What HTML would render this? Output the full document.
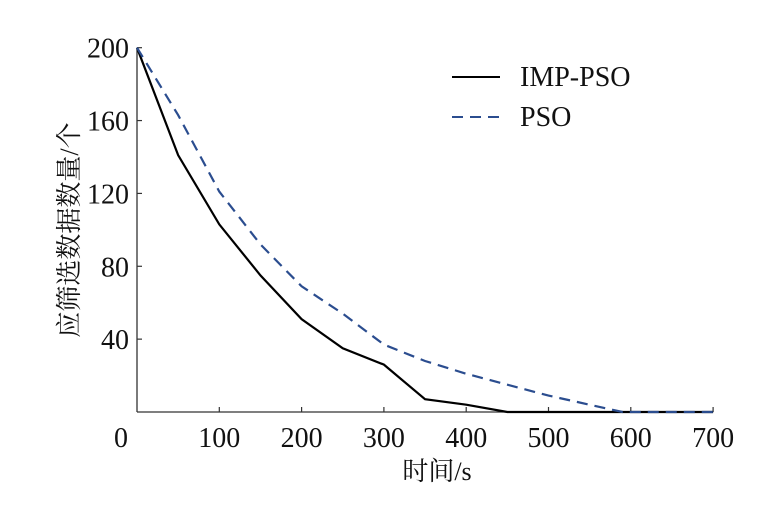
<!DOCTYPE html>
<html><head><meta charset="utf-8"><style>
html,body{margin:0;padding:0;background:#fff;}
svg text{font-family:"Liberation Serif","Noto Serif CJK SC","Noto Sans CJK SC",serif;fill:#111;}
</style></head><body>
<svg id="chart" width="769" height="509" viewBox="0 0 769 509" xmlns="http://www.w3.org/2000/svg">
<g id="axes"></g>
<g id="series"></g>
<g>
<line x1="452" y1="77" x2="500" y2="77" stroke="#000" stroke-width="2"/>
<text x="520" y="86" font-size="28">IMP-PSO</text>
<line x1="452" y1="117" x2="500" y2="117" stroke="#2b4d8f" stroke-width="2" stroke-dasharray="11,7"/>
<text x="520" y="126" font-size="28">PSO</text>
</g>
<text x="437" y="480" font-size="26" text-anchor="middle">时间/s</text>
<text transform="translate(78,230) rotate(-90)" font-size="26" text-anchor="middle">应筛选数据数量/个</text>
</svg>
<script>
const xTicks=[0,100,200,300,400,500,600,700];
const yTicks=[40,80,120,160,200];
const impX=[0,50,100,150,200,250,300,350,400,450,700];
const impY=[200,141,103,75,51,35,26,7,4,0,0];
const psoX=[0,50,100,150,200,250,300,350,400,450,500,550,590,700];
const psoY=[200,163,121,92,69,54,37,28,21,15,9,4,0,0];
const X=v=>137+v*0.823, Y=v=>412-v*1.8215;
const NS="http://www.w3.org/2000/svg";
const axes=document.getElementById('axes'), ser=document.getElementById('series');
function mk(tag,attrs,parent){const e=document.createElementNS(NS,tag);for(const k in attrs)e.setAttribute(k,attrs[k]);parent.appendChild(e);return e;}
let a=mk('line',{x1:X(0),y1:Y(0),x2:X(700),y2:Y(0),stroke:'#333','stroke-width':1.3},axes);


a=mk('line',{x1:X(0),y1:Y(0),x2:X(0),y2:Y(200),stroke:'#333','stroke-width':1.3},axes);


xTicks.forEach(t=>{
  if(t>0){const tk=mk('line',{x1:X(t),y1:Y(0),x2:X(t),y2:Y(0)-5,stroke:'#333','stroke-width':1.2},axes);
  
  }
  const tx=mk('text',{x:t===0?121:X(t),y:447,'font-size':28,'text-anchor':'middle'},axes);tx.textContent=t;
  
  
});
yTicks.forEach(t=>{
  const tk=mk('line',{x1:X(0),y1:Y(t),x2:X(0)+5,y2:Y(t),stroke:'#333','stroke-width':1.2},axes);
  
  
  const tx=mk('text',{x:129,y:Y(t)+10,'font-size':28,'text-anchor':'end'},axes);tx.textContent=t;
  
  
});
const p1=mk('polyline',{points:impX.map((x,i)=>X(x)+','+Y(impY[i])).join(' '),fill:'none',stroke:'#000','stroke-width':2.2},ser);


const p2=mk('polyline',{points:psoX.map((x,i)=>X(x)+','+Y(psoY[i])).join(' '),fill:'none',stroke:'#2b4d8f','stroke-width':2.2,'stroke-dasharray':'11,7'},ser);


</script>
</body></html>
